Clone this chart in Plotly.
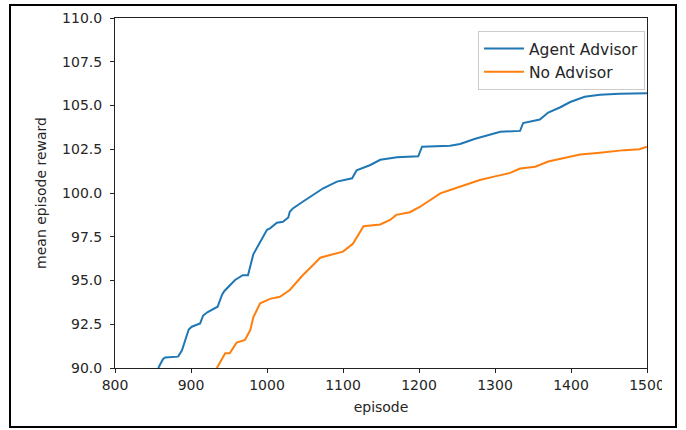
import plotly.graph_objects as go

# ---- data ----
agent_episodes = [857, 863, 866, 883, 888, 897, 901, 912, 916, 922, 935, 941, 944, 955, 958,
                  968, 975, 982, 984, 995, 1000, 1004, 1013, 1021, 1028, 1030, 1034, 1047,
                  1061, 1074, 1092, 1103, 1112, 1118, 1136, 1149, 1171, 1199, 1204, 1241,
                  1254, 1274, 1293, 1307, 1333, 1337, 1359, 1370, 1386, 1399, 1418, 1438,
                  1464, 1500]
agent_reward = [90.0, 90.5, 90.6, 90.65, 91.0, 92.2, 92.36, 92.55, 93.0, 93.2, 93.5, 94.2,
                94.4, 94.9, 95.03, 95.3, 95.3, 96.5, 96.65, 97.5, 97.9, 97.98, 98.3, 98.36,
                98.6, 98.93, 99.12, 99.5, 99.9, 100.27, 100.65, 100.75, 100.84, 101.3,
                101.6, 101.9, 102.04, 102.1, 102.65, 102.7, 102.8, 103.1, 103.35, 103.5,
                103.55, 104.0, 104.2, 104.6, 104.9, 105.2, 105.5, 105.62, 105.67, 105.7]

no_adv_episodes = [934, 945, 951, 960, 971, 978, 982, 991, 1004, 1017, 1030, 1047, 1061,
                   1070, 1083, 1100, 1113, 1120, 1127, 1149, 1162, 1170, 1188, 1201, 1214,
                   1228, 1241, 1261, 1280, 1300, 1320, 1333, 1353, 1370, 1393, 1412, 1438,
                   1470, 1490, 1500]
no_adv_reward = [90.0, 90.84, 90.84, 91.45, 91.6, 92.17, 92.9, 93.7, 93.95, 94.07, 94.46,
                 95.3, 95.9, 96.3, 96.46, 96.65, 97.1, 97.6, 98.1, 98.2, 98.46, 98.75, 98.9,
                 99.2, 99.6, 99.98, 100.17, 100.45, 100.74, 100.95, 101.15, 101.4, 101.5,
                 101.8, 102.0, 102.2, 102.3, 102.45, 102.5, 102.65]

series_names = ["Agent Advisor", "No Advisor"]
x_ticks = [800, 900, 1000, 1100, 1200, 1300, 1400, 1500]
y_ticks = [90.0, 92.5, 95.0, 97.5, 100.0, 102.5, 105.0, 107.5, 110.0]

FONT = "DejaVu Sans"
TXT = "#262626"

fig = go.Figure()
fig.add_trace(go.Scatter(x=agent_episodes, y=agent_reward, mode="lines",
                         name=series_names[0], line=dict(color="#1f77b4", width=2)))
fig.add_trace(go.Scatter(x=no_adv_episodes, y=no_adv_reward, mode="lines",
                         name=series_names[1], line=dict(color="#ff7f0e", width=2)))

axis_common = dict(showgrid=False, zeroline=False, showline=True, mirror=True,
                   linecolor="#222222", linewidth=1, ticks="outside", ticklen=4,
                   tickcolor="#222222", tickfont=dict(family=FONT, size=14, color=TXT))

fig.update_xaxes(range=[800, 1500], tickvals=x_ticks,
                 title=dict(text="episode", font=dict(family=FONT, size=14, color=TXT), standoff=10),
                 **axis_common)
fig.update_yaxes(range=[90, 110], tickvals=y_ticks, tickformat=".1f", ticklabelstandoff=5,
                 title=dict(text="mean episode reward", font=dict(family=FONT, size=14, color=TXT), standoff=12),
                 **axis_common)

fig.update_layout(
    width=686, height=430,
    margin=dict(l=115, r=39, t=18, b=62, autoexpand=False),
    paper_bgcolor="white", plot_bgcolor="white",
    font=dict(family=FONT, size=14, color=TXT),
    legend=dict(x=(645 - 115) / 532, xanchor="right", y=(368 - 31) / 350, yanchor="top",
                bordercolor="#cccccc", borderwidth=1, bgcolor="white",
                font=dict(family=FONT, size=15.5, color=TXT),
                tracegroupgap=0, itemwidth=40),
    showlegend=True,
    shapes=[
        # clip of the last x tick label, as in the screenshot
        dict(type="rect", xref="paper", yref="paper",
             x0=(662 - 115) / 532, x1=(675 - 115) / 532,
             y0=(368 - 400) / 350, y1=(368 - 372) / 350,
             fillcolor="white", line=dict(width=0), layer="above"),
        # outer black frame of the screenshot
        dict(type="rect", xref="paper", yref="paper",
             x0=(10 - 115) / 532, x1=(676 - 115) / 532,
             y0=(368 - 427) / 350, y1=(368 - 5) / 350,
             line=dict(color="black", width=2), fillcolor="rgba(0,0,0,0)", layer="above"),
    ],
)

fig.write_html("out.html")
